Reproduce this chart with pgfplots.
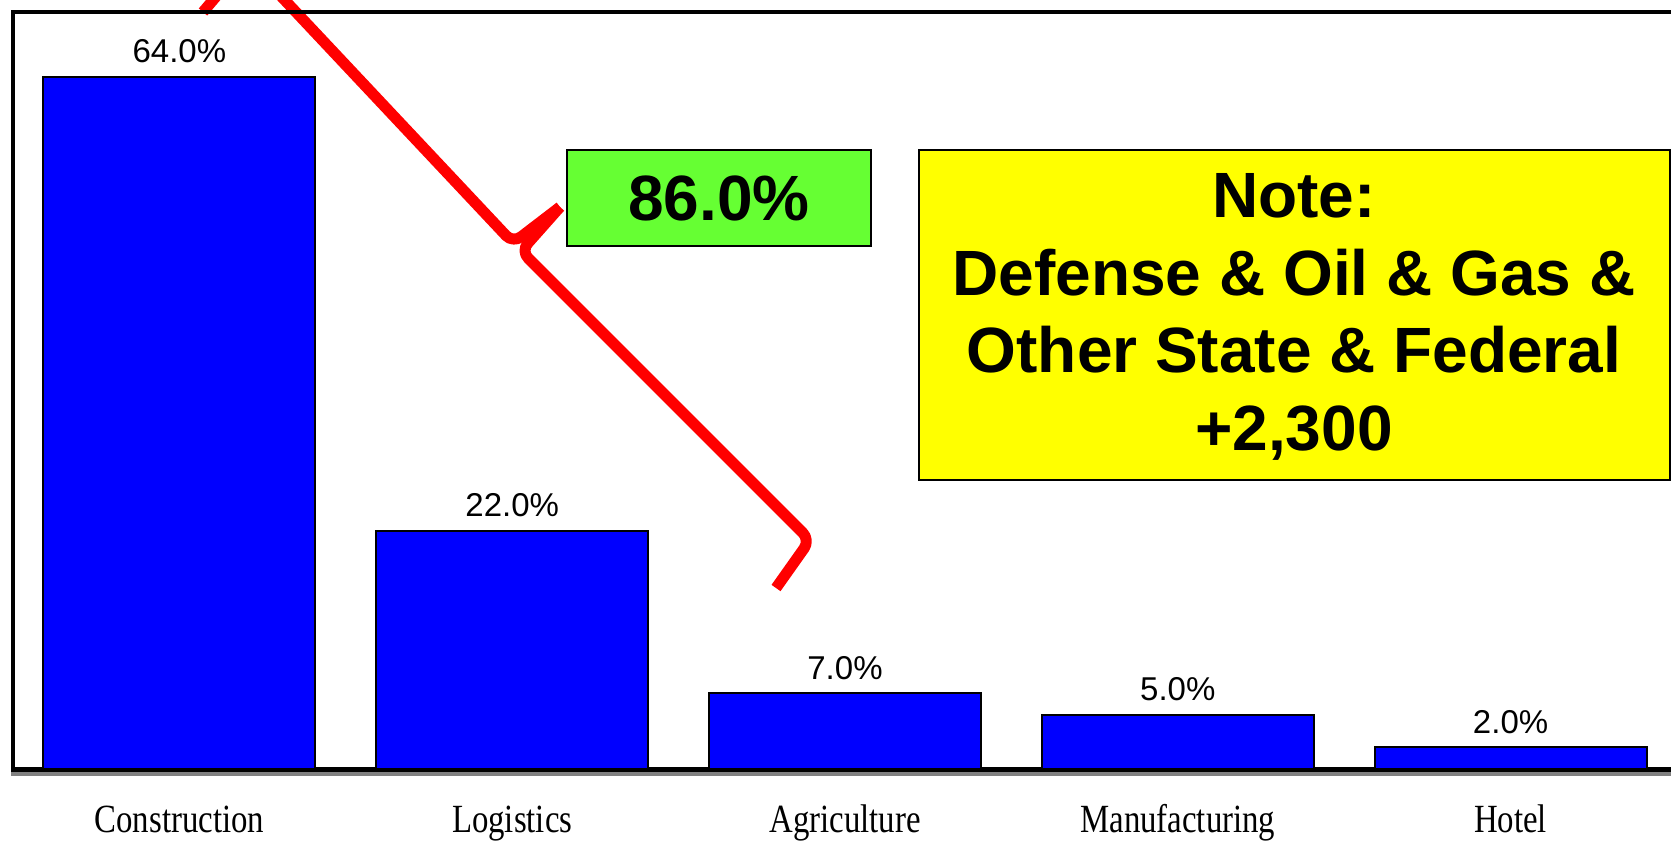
\documentclass[border=0pt]{standalone}
\usepackage{pgfplots}
\pgfplotsset{compat=1.18}
\usepackage{fontspec}
\setmainfont{Liberation Sans}
\newfontfamily\tnr{Liberation Serif}
\definecolor{barblue}{RGB}{0,0,255}
\definecolor{notegreen}{RGB}{102,255,51}
\definecolor{noteyellow}{RGB}{255,255,0}
\definecolor{bracered}{RGB}{255,0,0}
\definecolor{shadowgray}{RGB}{128,128,128}
\newcommand{\xl}[1]{\scalebox{0.82}[1]{\fontsize{20}{20}\selectfont\tnr #1}}
\begin{document}
\begin{tikzpicture}
\useasboundingbox (0pt,0pt) rectangle (835.5pt,421.5pt);
% red brace (annotation), in image pixel coordinates
\begin{scope}[shift={(0pt,421.5pt)},x=0.5pt,y=-0.5pt]
\draw[bracered, line width=5.5pt, line cap=butt, line join=round, rounded corners=5pt]
  (203,12) -- (247,-40) -- (513,243) -- (560,207);
\draw[bracered, line width=5.5pt, line cap=butt, line join=round, rounded corners=5pt]
  (560,207) -- (521,251) -- (810,540) -- (776,588);
\end{scope}
\begin{axis}[
  at={(6.5pt,37pt)}, anchor=south west,
  width=832pt, height=378.4pt, scale only axis,
  ybar, bar width=0.817,
  xmin=-0.5, xmax=4.5, ymin=0, ymax=70,
  enlargelimits=false,
  xtick={0,1,2,3,4},
  xticklabels={\xl{Construction},\xl{Logistics},\xl{Agriculture},\xl{Manufacturing},\xl{Hotel}},
  ytick=\empty,
  major tick length=0pt,
  axis line style={line width=1.75pt},
  xticklabel style={anchor=base, yshift=-31.5pt, inner sep=0pt},
  nodes near coords={\pgfmathprintnumber[fixed, fixed zerofill, precision=1, assume math mode=true]{\pgfplotspointmeta}\%},
  every node near coord/.append style={font=\fontsize{16.5}{16.5}\selectfont, anchor=south, inner sep=0pt, yshift=6.5pt, black},
]
\addplot[fill=barblue, draw=black, line width=1pt] coordinates {(0,64) (1,22) (2,7) (3,5) (4,2)};
\end{axis}
\begin{scope}[shift={(0pt,421.5pt)},x=0.5pt,y=-0.5pt]
\draw[black, line width=2pt] (11,770) -- (1671,770);
\draw[shadowgray, line width=2pt] (11,774) -- (1671,774);
\filldraw[fill=notegreen, draw=black, line width=0.8pt] (567,150) rectangle (871,246);
\node[font=\fontsize{32}{39}\selectfont\bfseries] at (719,198) {86.0\%};
\filldraw[fill=noteyellow, draw=black, line width=0.8pt] (919,150) rectangle (1670,480);
\node[align=center, font=\fontsize{32}{38.75}\selectfont\bfseries] at (1294,317)
  {Note:\\Defense \& Oil \& Gas \&\\Other State \& Federal\\+2,300};
\end{scope}
\end{tikzpicture}
\end{document}
